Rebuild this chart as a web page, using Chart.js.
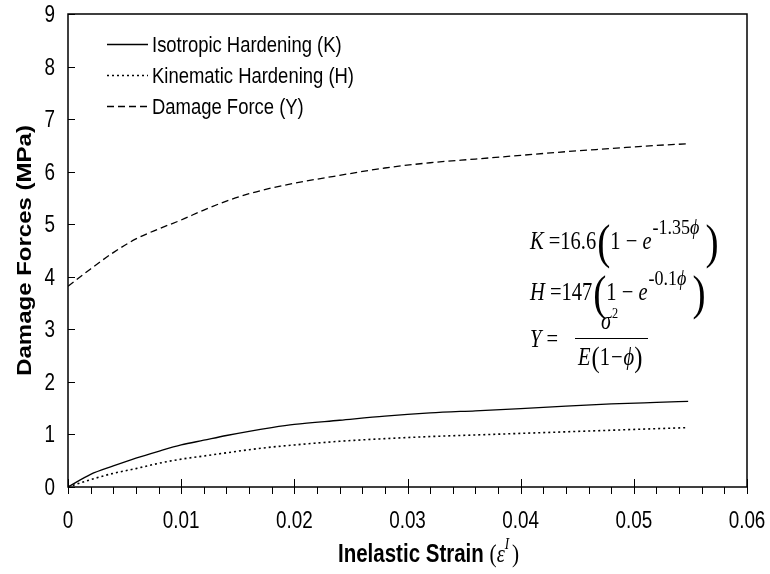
<!DOCTYPE html>
<html>
<head>
<meta charset="utf-8">
<script src="https://cdn.jsdelivr.net/npm/chart.js@4.4.1/dist/chart.umd.min.js"></script>
<style>
  html, body { margin: 0; padding: 0; background: #fff; }
</style>
</head>
<body>
<canvas id="damageChart" width="770" height="574"></canvas>
<script>
// values
const strain = [0, 0.002, 0.004, 0.006, 0.008, 0.010, 0.012, 0.014, 0.016, 0.018,
                0.020, 0.024, 0.028, 0.032, 0.036, 0.040, 0.044, 0.048, 0.052, 0.0548];
const isoK = [0, 0.24, 0.40, 0.55, 0.68, 0.80, 0.89, 0.98, 1.06, 1.13,
              1.19, 1.27, 1.35, 1.41, 1.45, 1.49, 1.54, 1.58, 1.61, 1.63];
const kinH = [0, 0.14, 0.26, 0.35, 0.45, 0.53, 0.59, 0.65, 0.71, 0.76,
              0.80, 0.87, 0.92, 0.96, 0.99, 1.02, 1.05, 1.08, 1.11, 1.13];
const damY = [3.82, 4.15, 4.46, 4.72, 4.91, 5.08, 5.27, 5.44, 5.58, 5.69,
              5.78, 5.93, 6.07, 6.17, 6.24, 6.31, 6.38, 6.44, 6.50, 6.53];

const seriesNames = ["Isotropic Hardening (K)", "Kinematic Hardening (H)", "Damage Force (Y)"];
const xTitle = "Inelastic Strain ";
const yTitle = "Damage Forces (MPa)";

const SANS = "'Liberation Sans', Arial, sans-serif";
const SERIF = "'Liberation Serif', 'Times New Roman', serif";
const SQ = 0.82; // the original picture is squeezed sideways

// one piece of text, squeezed horizontally; returns its drawn width
function textN(ctx, str, x, y, font, align) {
  ctx.save();
  ctx.translate(x, y);
  ctx.scale(SQ, 1);
  ctx.font = font;
  ctx.textAlign = align || "left";
  ctx.fillText(str, 0, 0);
  const w = ctx.measureText(str).width * SQ;
  ctx.restore();
  return w;
}

// a row of pieces, each with its own font and vertical offset
function drawRuns(ctx, x, y, runs) {
  runs.forEach(r => {
    x += textN(ctx, r.t, x, y + (r.dy || 0), r.f) + (r.gap || 0);
  });
  return x;
}

const decorations = {
  id: "decorations",
  afterDraw(chart) {
    const ctx = chart.ctx;
    const a = chart.chartArea;
    const xs = chart.scales.x, ys = chart.scales.y;
    ctx.save();
    ctx.strokeStyle = "#000";
    ctx.fillStyle = "#000";
    ctx.textBaseline = "alphabetic";

    // frame
    ctx.lineWidth = 1.5;
    ctx.strokeRect(a.left, a.top, a.right - a.left, a.bottom - a.top);

    // tick marks
    ctx.lineWidth = 1;
    ctx.beginPath();
    for (let i = 0; i <= 30; i++) {
      const px = Math.round(xs.getPixelForValue(i * 0.002)) + 0.5;
      ctx.moveTo(px, a.bottom);
      ctx.lineTo(px, a.bottom + 7);
      if (i % 5 === 0) {
        ctx.moveTo(px, a.bottom);
        ctx.lineTo(px, a.bottom - 8);
      }
    }
    ys.ticks.forEach(t => {
      const py = Math.round(ys.getPixelForValue(t.value)) + 0.5;
      ctx.moveTo(a.left, py);
      ctx.lineTo(a.left + 7, py);
    });
    ctx.stroke();

    // tick labels from the library's own ticks
    const tf = "23px " + SANS;
    xs.ticks.forEach(t => textN(ctx, t.label, xs.getPixelForValue(t.value), 528, tf, "center"));
    ys.ticks.forEach(t => textN(ctx, t.label, 55, ys.getPixelForValue(t.value) + 8, tf, "right"));

    // legend
    chart.data.datasets.forEach((ds, i) => {
      const y = 44 + i * 31;
      ctx.lineWidth = ds.borderWidth;
      ctx.setLineDash(ds.borderDash || []);
      ctx.beginPath();
      ctx.moveTo(107, y + 0.5);
      ctx.lineTo(148, y + 0.5);
      ctx.stroke();
      ctx.setLineDash([]);
      textN(ctx, ds.label, 152, y + 8, "22.5px " + SANS);
    });

    // equations
    const it = "italic 25px " + SERIF, rm = "25px " + SERIF;
    const supIt = "italic 22px " + SERIF, supRm = "22px " + SERIF;
    const big = "48px " + SERIF;
    const phi = "\u03d5";
    drawRuns(ctx, 530, 249, [
      {t: "K", f: it}, {t: " =", f: rm}, {t: "16.6", f: rm, gap: 1},
      {t: "(", f: big, dy: 9}, {t: "1", f: rm}, {t: " \u2212 ", f: rm}, {t: "e", f: it, gap: 1},
      {t: "-1.35", f: supRm, dy: -15}, {t: phi, f: supIt, dy: -15, gap: 6},
      {t: ")", f: big, dy: 9}
    ]);
    drawRuns(ctx, 530, 300, [
      {t: "H", f: it}, {t: " =", f: rm}, {t: "147", f: rm, gap: 1},
      {t: "(", f: big, dy: 9}, {t: "1", f: rm}, {t: " \u2212 ", f: rm}, {t: "e", f: it, gap: 1},
      {t: "-0.1", f: supRm, dy: -15}, {t: phi, f: supIt, dy: -15, gap: 6},
      {t: ")", f: big, dy: 9}
    ]);
    drawRuns(ctx, 530, 347, [{t: "Y", f: it}, {t: " =", f: rm}]);
    ctx.lineWidth = 1.2;
    ctx.beginPath();
    ctx.moveTo(575, 338.5);
    ctx.lineTo(648, 338.5);
    ctx.stroke();
    drawRuns(ctx, 601, 329, [{t: "\u03c3", f: it, gap: 1}, {t: "2", f: "15px " + SERIF, dy: -11}]);
    drawRuns(ctx, 578, 365, [
      {t: "E", f: it, gap: 1}, {t: "(", f: "30px " + SERIF, dy: 2}, {t: "1", f: rm, gap: 1},
      {t: "\u2212", f: rm, gap: 1}, {t: phi, f: it}, {t: ")", f: "30px " + SERIF, dy: 2}
    ]);

    // axis titles
    drawRuns(ctx, 338, 562, [
      {t: xTitle, f: "bold 25px " + SANS},
      {t: "(", f: "26px " + SERIF},
      {t: "\u03b5", f: "italic 25px " + SERIF},
      {t: "I", f: "italic 16px " + SERIF, dy: -13, gap: 3},
      {t: ")", f: "26px " + SERIF}
    ]);

    ctx.translate(31, (a.top + a.bottom) / 2);
    ctx.scale(SQ, 1);
    ctx.rotate(-Math.PI / 2);
    ctx.textAlign = "center";
    ctx.font = "bold 24px " + SANS;
    ctx.fillText(yTitle, 0, 0);
    ctx.restore();
  }
};

new Chart(document.getElementById("damageChart"), {
  type: "line",
  data: {
    datasets: [
      {
        label: seriesNames[0],
        data: strain.map((x, i) => ({x: x, y: isoK[i]})),
        borderColor: "#000",
        borderWidth: 1.3,
        pointRadius: 0,
        cubicInterpolationMode: "monotone",
        fill: false
      },
      {
        label: seriesNames[1],
        data: strain.map((x, i) => ({x: x, y: kinH[i]})),
        borderColor: "#000",
        borderWidth: 1.6,
        borderDash: [2, 3],
        pointRadius: 0,
        cubicInterpolationMode: "monotone",
        fill: false
      },
      {
        label: seriesNames[2],
        data: strain.map((x, i) => ({x: x, y: damY[i]})),
        borderColor: "#000",
        borderWidth: 1.3,
        borderDash: [7, 4],
        pointRadius: 0,
        cubicInterpolationMode: "monotone",
        fill: false
      }
    ]
  },
  options: {
    responsive: false,
    animation: false,
    devicePixelRatio: 1,
    layout: { padding: { top: 14, right: 23, left: 0, bottom: 0 } },
    plugins: {
      legend: { display: false },
      tooltip: { enabled: false }
    },
    scales: {
      x: {
        type: "linear",
        min: 0,
        max: 0.06,
        afterFit: s => { s.height = 87; s.paddingLeft = 0; s.paddingRight = 0; },
        grid: { display: false, drawTicks: false },
        border: { display: false },
        ticks: {
          stepSize: 0.01,
          color: "rgba(0,0,0,0)",
          maxRotation: 0,
          font: { family: SANS, size: 12 },
          callback: v => String(+v.toFixed(2))
        }
      },
      y: {
        min: 0,
        max: 9,
        afterFit: s => { s.width = 68; s.paddingTop = 0; s.paddingBottom = 0; },
        grid: { display: false, drawTicks: false },
        border: { display: false },
        ticks: {
          stepSize: 1,
          color: "rgba(0,0,0,0)",
          font: { family: SANS, size: 12 }
        }
      }
    }
  },
  plugins: [decorations]
});
</script>
</body>
</html>
